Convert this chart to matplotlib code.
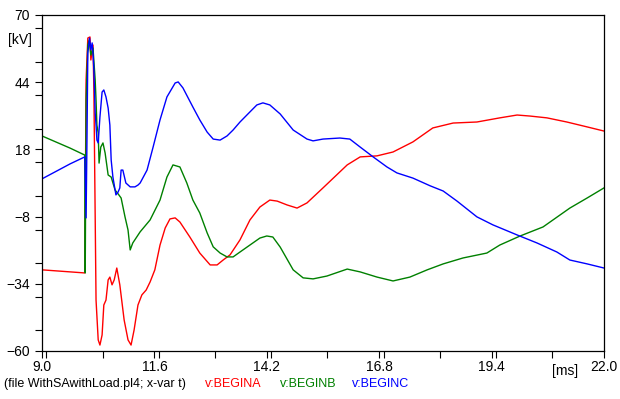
import matplotlib
matplotlib.use("Agg")
import matplotlib.pyplot as plt
from matplotlib.ticker import MultipleLocator, FormatStrFormatter

plt.rcParams['font.family'] = ['Liberation Sans', 'DejaVu Sans']

# tiempos en ms, tensiones en kV
t_a = [9.00, 9.99, 10.02, 10.06, 10.11, 10.13, 10.18, 10.20, 10.25, 10.30, 10.34, 10.39,
       10.43, 10.48, 10.53, 10.57, 10.62, 10.67, 10.73, 10.80, 10.90, 10.99, 11.06, 11.13,
       11.22, 11.31, 11.41, 11.50, 11.61, 11.73, 11.85, 11.96, 12.08, 12.19, 12.42, 12.65,
       12.89, 13.05, 13.19, 13.35, 13.58, 13.81, 14.04, 14.27, 14.44, 14.67, 14.90, 15.13,
       15.50, 16.06, 16.36, 16.75, 17.12, 17.58, 18.04, 18.51, 19.06, 19.59, 19.99, 20.29,
       20.68, 21.14, 21.61, 22.00]
v_a = [-28.6, -29.8, 44.9, 61.1, 61.5, 52.6, 58.4, 41.0, -40.3, -55.7, -57.7, -53.8,
       -42.2, -40.3, -32.5, -31.4, -34.4, -32.5, -27.9, -34.4, -48.0, -55.7, -57.7, -51.9,
       -42.2, -38.3, -36.4, -33.3, -28.6, -19.0, -12.4, -8.9, -8.5, -10.1, -15.9, -22.1,
       -26.7, -26.7, -24.8, -22.8, -17.0, -9.3, -4.3, -1.6, -2.0, -3.5, -4.7, -2.7,
       3.1, 12.0, 15.1, 15.5, 17.0, 20.9, 26.3, 28.2, 28.6, 30.2, 31.3, 30.9,
       30.2, 28.6, 26.7, 25.1]

t_b = [9.00, 9.65, 9.99, 10.00, 10.02, 10.06, 10.09, 10.13, 10.18, 10.23, 10.25, 10.27,
       10.30, 10.32, 10.36, 10.41, 10.46, 10.53, 10.60, 10.69, 10.76, 10.83, 10.92, 10.99,
       11.04, 11.10, 11.27, 11.50, 11.73, 11.89, 12.03, 12.19, 12.35, 12.49, 12.65, 12.82,
       12.96, 13.12, 13.28, 13.42, 13.58, 13.81, 14.04, 14.20, 14.34, 14.51, 14.81, 15.04,
       15.27, 15.59, 16.06, 16.36, 16.75, 17.12, 17.51, 17.91, 18.28, 18.74, 19.29, 19.59,
       20.06, 20.59, 21.21, 21.61, 22.00]
v_b = [23.2, 18.5, 15.8, -29.8, 37.1, 58.4, 60.3, 54.5, 57.2, 44.9, 37.1, 27.4,
       24.4, 12.7, 18.9, 20.5, 16.6, 8.1, 7.3, 2.3, 0.8, -0.8, -8.1, -13.2,
       -20.9, -18.2, -13.9, -9.3, -1.6, 7.3, 12.0, 11.2, 5.0, -1.6, -6.6, -14.3,
       -19.7, -22.1, -23.6, -23.6, -21.7, -19.0, -16.3, -15.5, -15.9, -19.8, -28.6, -31.7,
       -32.1, -31.0, -28.3, -29.4, -31.4, -32.9, -31.4, -28.6, -26.3, -24.0, -22.1, -19.0,
       -15.5, -12.0, -4.7, -0.8, 3.1]

t_c = [9.00, 9.65, 9.99, 10.02, 10.04, 10.06, 10.10, 10.13, 10.16, 10.18, 10.20, 10.23,
       10.25, 10.27, 10.30, 10.34, 10.39, 10.43, 10.48, 10.53, 10.57, 10.60, 10.64, 10.71,
       10.76, 10.80, 10.83, 10.87, 10.94, 11.04, 11.15, 11.22, 11.27, 11.43, 11.57, 11.73,
       11.89, 12.08, 12.15, 12.26, 12.49, 12.65, 12.82, 12.96, 13.12, 13.28, 13.42, 13.58,
       13.81, 13.97, 14.11, 14.27, 14.51, 14.81, 15.13, 15.27, 15.50, 15.89, 16.12, 16.36,
       16.66, 16.98, 17.21, 17.58, 17.98, 18.28, 18.60, 19.06, 19.43, 19.99, 20.45, 20.91,
       21.21, 21.61, 22.00]
v_c = [6.6, 12.4, 15.1, -8.5, 21.6, 55.3, 61.1, 56.5, 59.2, 55.3, 48.7, 32.1,
       27.4, 21.6, 20.5, 30.5, 40.2, 41.0, 38.3, 34.0, 27.4, 13.9, 7.3, 0.4,
       1.5, 3.1, 10.0, 10.0, 5.0, 3.5, 3.5, 4.2, 5.0, 10.0, 18.9, 29.4,
       38.3, 43.7, 44.1, 41.8, 34.4, 29.4, 24.7, 22.0, 21.6, 23.2, 25.5, 28.6,
       32.5, 35.2, 36.0, 35.2, 31.7, 25.5, 22.0, 21.3, 22.0, 22.4, 22.0, 18.9,
       15.1, 11.2, 8.9, 6.9, 3.9, 1.9, -2.0, -8.1, -11.2, -15.1, -18.2, -21.7,
       -24.8, -26.3, -27.9]

x_ticks = [9.0, 11.6, 14.2, 16.8, 19.4, 22.0]
y_ticks = [-60, -34, -8, 18, 44, 70]

fig = plt.figure(figsize=(6.2, 3.99), dpi=100)
ax = fig.add_axes([42 / 620, 1 - 351 / 399, 562 / 620, 336 / 399])

ax.plot(t_a, v_a, color="#ff0000", lw=1.0)
ax.plot(t_b, v_b, color="#008000", lw=1.0)
ax.plot(t_c, v_c, color="#0000ff", lw=1.0)

ax.set_xlim(9.0, 22.0)
ax.set_ylim(-60, 70)
ax.set_xticks(x_ticks)
ax.set_yticks(y_ticks)
ax.xaxis.set_minor_locator(MultipleLocator(1.3))
ax.yaxis.set_minor_locator(MultipleLocator(13))
ax.xaxis.set_major_formatter(FormatStrFormatter("%.1f"))
ax.tick_params(which="both", direction="out", length=5, width=0.8, labelsize=10)
ax.tick_params(axis="x", pad=1.5)
for s in ax.spines.values():
    s.set_linewidth(0.9)

fig.text(20 / 620, 1 - 40 / 399, "[kV]", fontsize=10, ha="center", va="center")
fig.text(565 / 620, 1 - 371 / 399, "[ms]", fontsize=10, ha="center", va="center")

y_leyenda = 1 - 384 / 399
fig.text(4 / 620, y_leyenda, "(file WithSAwithLoad.pl4; x-var t)", fontsize=9, va="center")
fig.text(205 / 620, y_leyenda, "v:BEGINA", fontsize=9, va="center", color="#ff0000")
fig.text(280 / 620, y_leyenda, "v:BEGINB", fontsize=9, va="center", color="#008000")
fig.text(352 / 620, y_leyenda, "v:BEGINC", fontsize=9, va="center", color="#0000ff")

fig.savefig("out.png", dpi=100)
